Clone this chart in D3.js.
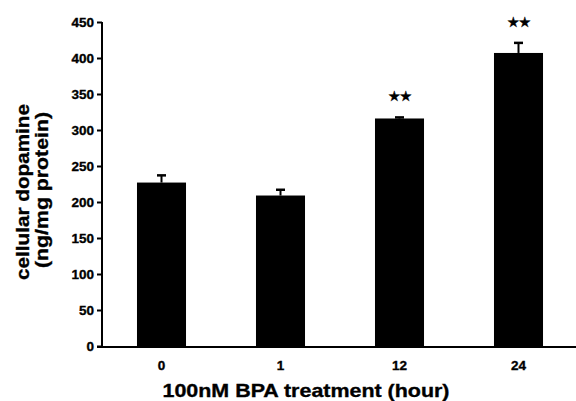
<!DOCTYPE html>
<html>
<head>
<meta charset="utf-8">
<script src="https://cdn.jsdelivr.net/npm/d3@7"></script>
<style>
	body { margin: 0; background: #fff; }
	svg { display: block; }
	text { font-family: "Liberation Sans", Arial, sans-serif; font-weight: bold; fill: #000; stroke: #000; stroke-width: 0.35px; }
</style>
</head>
<body>
<svg id="chart" width="576" height="401"></svg>
<script>
// values
let hours = ['0', '1', '12', '24'];
let dopamine = [227, 209, 316, 407];
let errors = [10, 8, 1.5, 14];
let marks = ['', '', '\u2605\u2605', '\u2605\u2605'];
let yTicks = [0, 50, 100, 150, 200, 250, 300, 350, 400, 450];

let svg = d3.select('#chart');

let x = d3.scaleBand()
	.domain(hours)
	.range([102, 578])
	.paddingInner(0.588)
	.paddingOuter(0.294)
;

let y = d3.scaleLinear()
	.domain([0, 450])
	.range([346, 22])
;

// bars
svg.selectAll('rect.bar')
	.data(hours)
	.enter()
	.append('rect')
	.attr('class', 'bar')
	.attr('x', d => x(d))
	.attr('y', (d, i) => y(dopamine[i]))
	.attr('width', x.bandwidth())
	.attr('height', (d, i) => y(0) - y(dopamine[i]))
	.style('fill', '#000')
;

// error bars (upper only)
let err = svg.selectAll('g.err')
	.data(hours)
	.enter()
	.append('g')
	.attr('class', 'err')
;

err.append('line')
	.attr('x1', d => x(d) + x.bandwidth() / 2)
	.attr('x2', d => x(d) + x.bandwidth() / 2)
	.attr('y1', (d, i) => y(dopamine[i]))
	.attr('y2', (d, i) => y(dopamine[i] + errors[i]))
	.style('stroke', '#000')
	.style('stroke-width', 2)
;

err.append('line')
	.attr('x1', d => x(d) + x.bandwidth() / 2 - 4.5)
	.attr('x2', d => x(d) + x.bandwidth() / 2 + 4.5)
	.attr('y1', (d, i) => y(dopamine[i] + errors[i]))
	.attr('y2', (d, i) => y(dopamine[i] + errors[i]))
	.style('stroke', '#000')
	.style('stroke-width', 2.5)
;

// significance stars
svg.selectAll('text.star')
	.data(hours)
	.enter()
	.append('text')
	.attr('class', 'star')
	.attr('x', d => x(d) + x.bandwidth() / 2)
	.attr('y', (d, i) => y(dopamine[i] + errors[i]) - 16)
	.attr('text-anchor', 'middle')
	.style('font-family', '"DejaVu Sans", sans-serif')
	.style('font-size', '14px')
	.style('letter-spacing', '-1px')
	.text((d, i) => marks[i])
;

// y axis
let yAxis = svg.append('g')
	.attr('transform', 'translate(102,0)')
	.call(d3.axisLeft(y).tickValues(yTicks).tickSize(5).tickPadding(3))
;
yAxis.select('.domain')
	.attr('d', 'M0,' + y(450) + 'V' + y(0))
	.style('stroke-width', 2)
;
yAxis.selectAll('.tick line').style('stroke-width', 2);
yAxis.selectAll('.tick text')
	.style('font-size', '13.5px')
	.attr('dy', '0.36em')
;

// x axis
let xAxis = svg.append('g')
	.attr('transform', 'translate(0,347)')
	.call(d3.axisBottom(x).tickSize(0).tickPadding(13))
;
xAxis.select('.domain')
	.attr('d', 'M97,0H576')
	.style('stroke-width', 2)
;
xAxis.selectAll('.tick text')
	.style('font-size', '13.5px')
;

// axis titles
svg.append('text')
	.attr('x', 306)
	.attr('y', 397)
	.attr('text-anchor', 'middle')
	.attr('textLength', 287)
	.attr('lengthAdjust', 'spacingAndGlyphs')
	.style('font-size', '18.5px')
	.text('100nM BPA treatment (hour)')
;

svg.append('text')
	.attr('transform', 'translate(29,192) rotate(-90)')
	.attr('text-anchor', 'middle')
	.attr('textLength', 176)
	.attr('lengthAdjust', 'spacingAndGlyphs')
	.style('font-size', '19px')
	.text('cellular dopamine')
;

svg.append('text')
	.attr('transform', 'translate(48,190) rotate(-90)')
	.attr('text-anchor', 'middle')
	.attr('textLength', 156)
	.attr('lengthAdjust', 'spacingAndGlyphs')
	.style('font-size', '19px')
	.text('(ng/mg protein)')
;
</script>
</body>
</html>
